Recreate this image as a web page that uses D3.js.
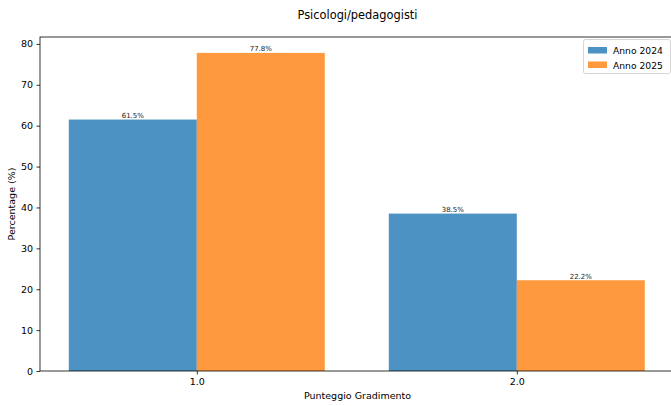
<!DOCTYPE html>
<html><head><meta charset="utf-8">
<script src="https://cdn.jsdelivr.net/npm/d3@7"></script>
<style>body{margin:0;background:#fff}svg{display:block;font-family:"DejaVu Sans",sans-serif}</style>
</head><body>
<svg id="c" width="671" height="406"></svg>
<script>
const categories = [1.0, 2.0];
const seriesNames = ["Anno 2024", "Anno 2025"];
const values2024 = [61.5, 38.5];
const values2025 = [77.8, 22.2];
const yTicks = [0, 10, 20, 30, 40, 50, 60, 70, 80];
const colors = ["#1f77b4", "#ff7f0e"];

const svg = d3.select("#c");
const L = 40, R = 673.6, T = 37, B = 371;
const barW = 0.4;
const x = d3.scaleLinear().domain([0.51, 2.49]).range([L, R]);
const y = d3.scaleLinear().domain([0, 81.69]).range([B, T]);

const series = [values2024, values2025];
series.forEach((vals, si) => {
  const off = si === 0 ? -barW : 0;
  svg.selectAll(null).data(vals).enter().append("rect")
    .attr("x", (d, i) => x(categories[i] + off))
    .attr("width", (d, i) => x(categories[i] + off + barW) - x(categories[i] + off))
    .attr("y", d => y(d))
    .attr("height", d => y(0) - y(d))
    .attr("fill", colors[si]).attr("fill-opacity", 0.8);
  svg.selectAll(null).data(vals).enter().append("text")
    .attr("x", (d, i) => x(categories[i] + off + barW / 2))
    .attr("y", d => y(d) - 1.5)
    .attr("text-anchor", "middle").attr("font-size", 7).attr("fill", "#222")
    .text(d => d.toFixed(1) + "%");
});

// axes
const ya = d3.axisLeft(y).tickValues(yTicks).tickSize(3.5).tickPadding(3.5).tickFormat(d3.format("d"));
const gy = svg.append("g").attr("transform", `translate(${L},0)`).call(ya);
const xa = d3.axisBottom(x).tickValues(categories).tickSize(3.5).tickPadding(3.5).tickFormat(d3.format(".1f"));
const gx = svg.append("g").attr("transform", `translate(0,${B})`).call(xa);
[gy, gx].forEach(g => {
  g.select(".domain").remove();
  g.selectAll("text").attr("font-size", 9.5).attr("fill", "#000").attr("font-family", "DejaVu Sans");
  g.selectAll("line").attr("stroke", "#000").attr("stroke-width", 0.8);
});
// spines
svg.append("rect").attr("x", L).attr("y", T).attr("width", R - L).attr("height", B - T)
  .attr("fill", "none").attr("stroke", "#000").attr("stroke-width", 0.8);

svg.append("text").attr("x", 357.5).attr("y", 19).attr("text-anchor", "middle")
  .attr("font-size", 11.4).text("Psicologi/pedagogisti");
svg.append("text").attr("x", 357.5).attr("y", 399).attr("text-anchor", "middle")
  .attr("font-size", 9.5).text("Punteggio Gradimento");
svg.append("text").attr("transform", "translate(15,204) rotate(-90)").attr("text-anchor", "middle")
  .attr("font-size", 9.5).text("Percentage (%)");

// legend
const lg = svg.append("g");
lg.append("rect").attr("x", 583.5).attr("y", 39.5).attr("width", 87).attr("height", 34).attr("rx", 2)
  .attr("fill", "#fff").attr("fill-opacity", 0.8).attr("stroke", "#ccc").attr("stroke-width", 0.8);
seriesNames.forEach((n, i) => {
  lg.append("rect").attr("x", 588).attr("y", 47 + i * 14.5).attr("width", 19).attr("height", 6.5)
    .attr("fill", colors[i]).attr("fill-opacity", 0.8);
  lg.append("text").attr("x", 613).attr("y", 54 + i * 14.5).attr("font-size", 9.2).text(n);
});
</script>
</body></html>
